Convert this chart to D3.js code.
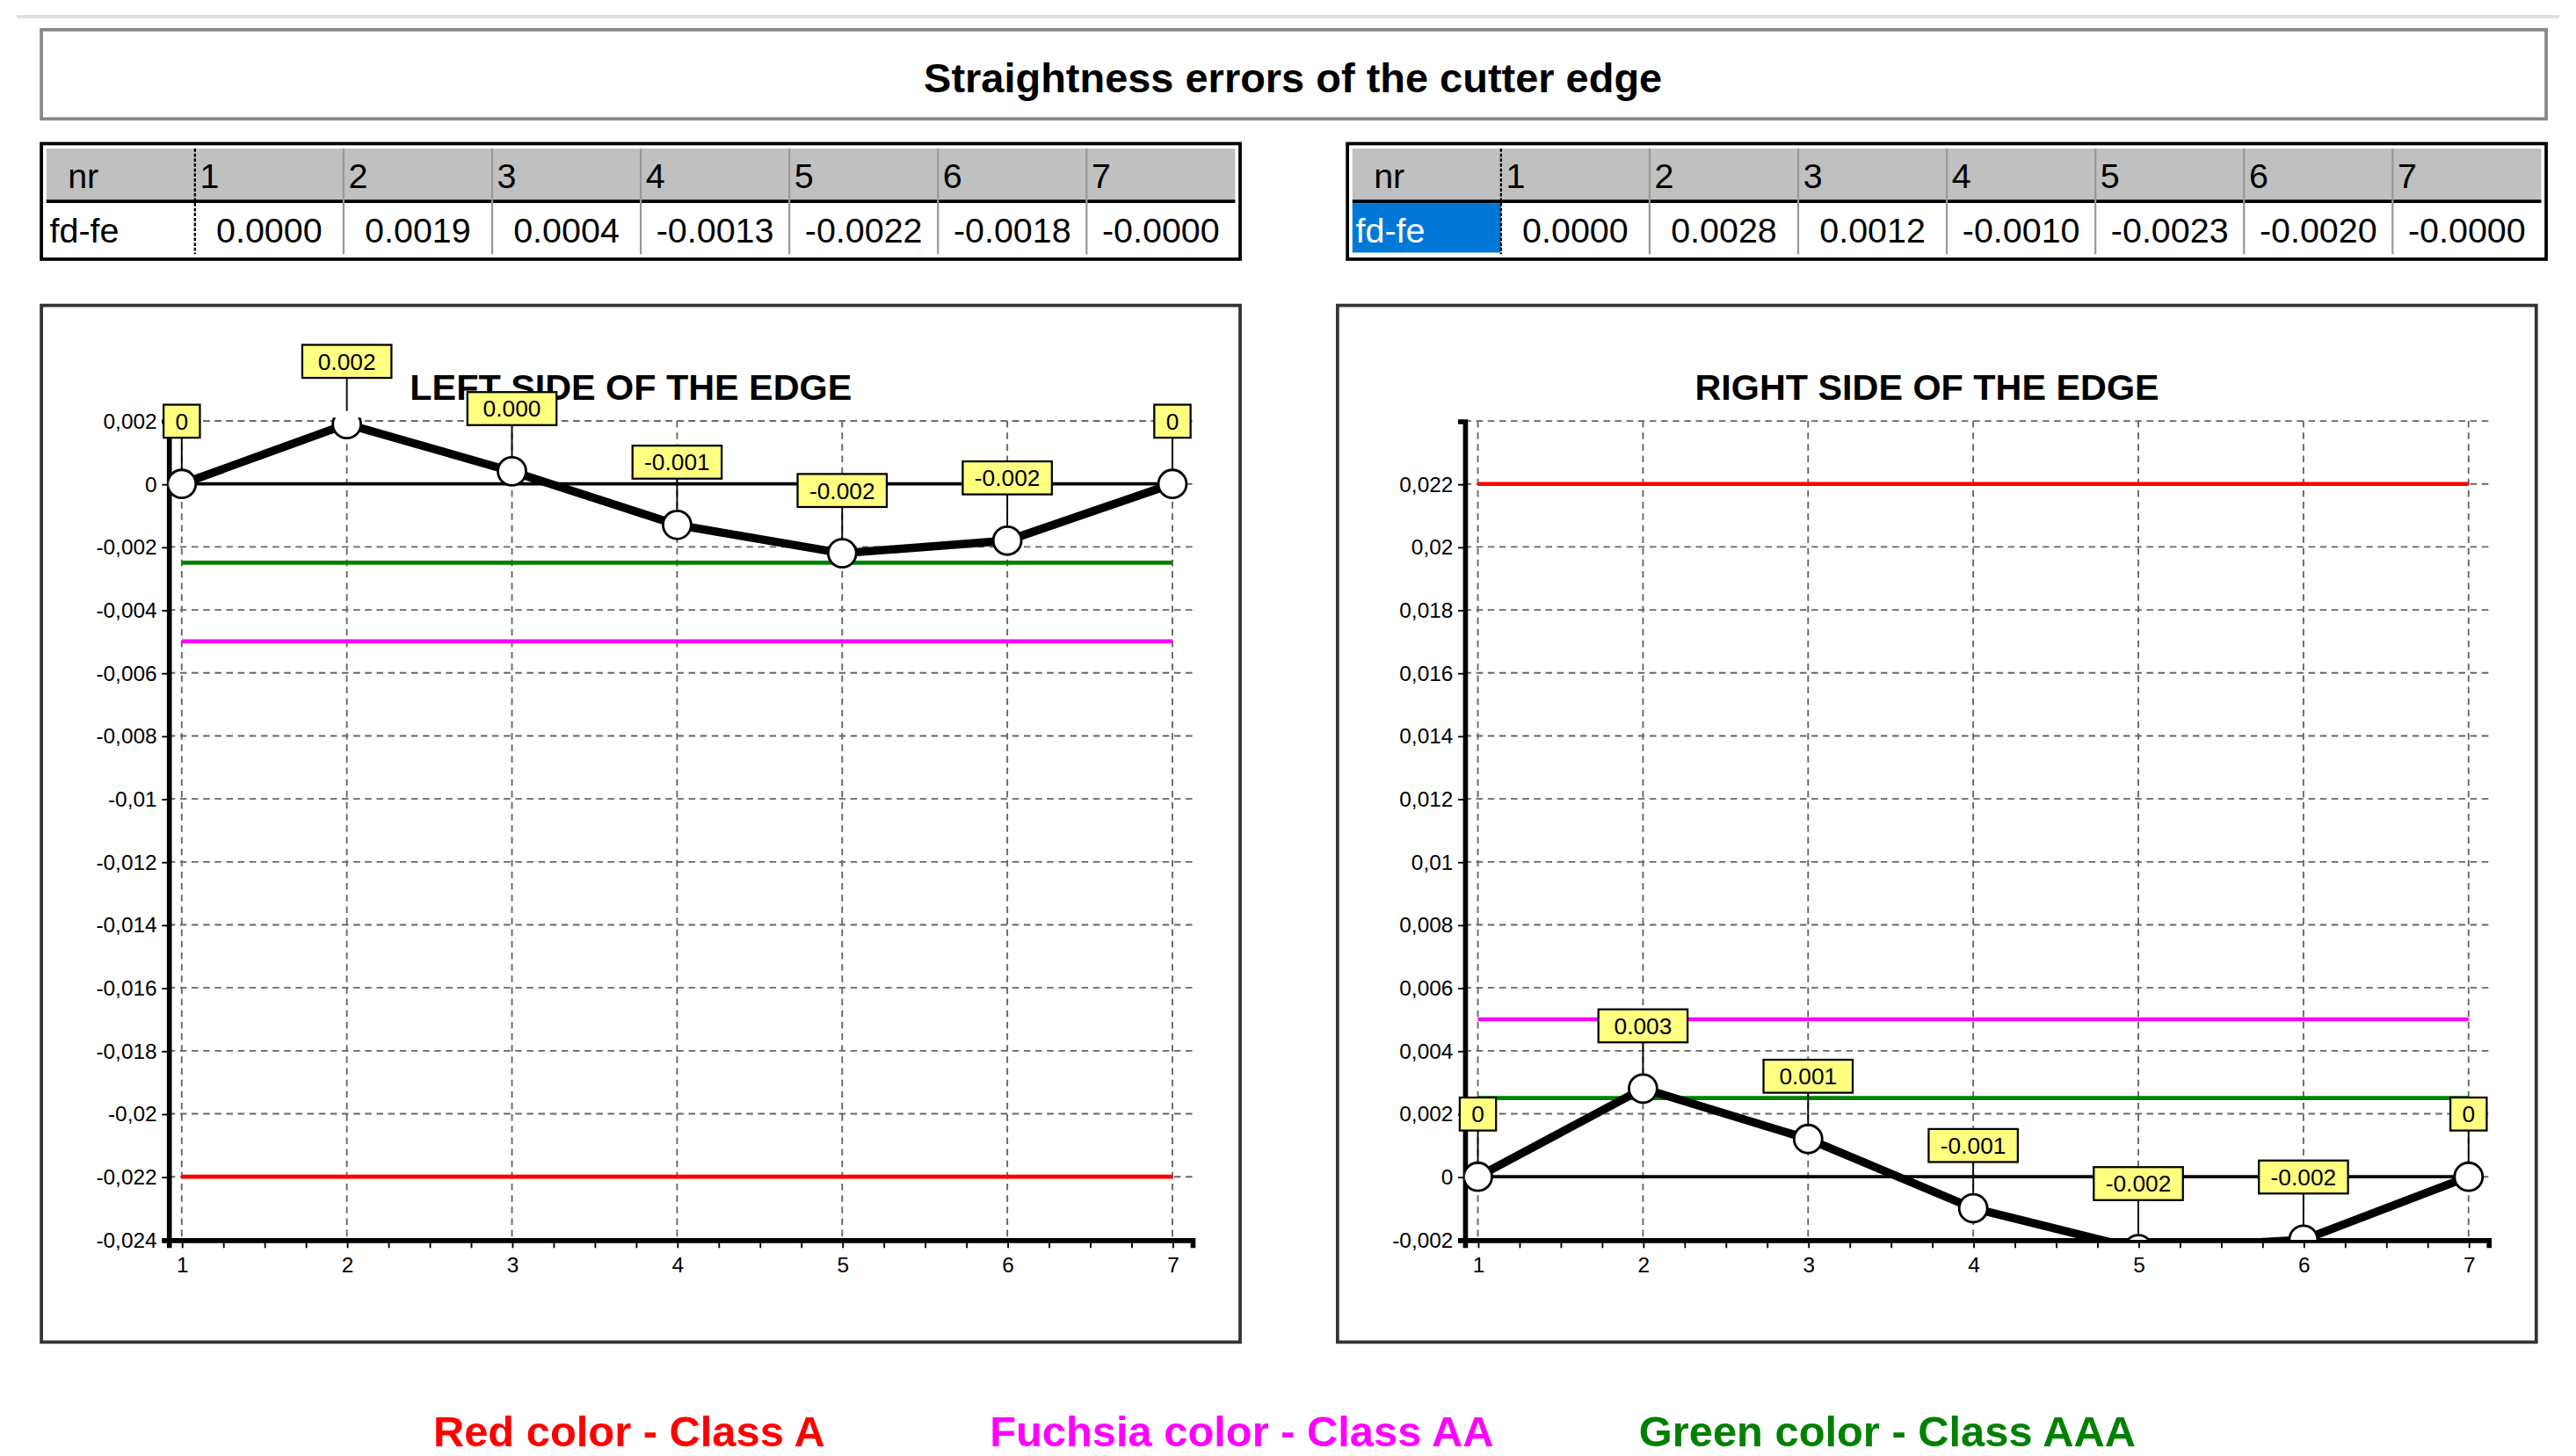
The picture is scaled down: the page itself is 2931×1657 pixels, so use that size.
<!DOCTYPE html>
<html><head><meta charset="utf-8">
<script src="https://cdn.jsdelivr.net/npm/d3@7"></script>
<style>body{margin:0;background:#fff}svg{display:block}text{font-family:"Liberation Sans",Arial,sans-serif}</style>
</head><body>
<script>
const points = [1, 2, 3, 4, 5, 6, 7];
const leftValues = [0.0000, 0.0019, 0.0004, -0.0013, -0.0022, -0.0018, -0.0000];
const rightValues = [0.0000, 0.0028, 0.0012, -0.0010, -0.0023, -0.0020, -0.0000];
const leftTable = ["0.0000", "0.0019", "0.0004", "-0.0013", "-0.0022", "-0.0018", "-0.0000"];
const rightTable = ["0.0000", "0.0028", "0.0012", "-0.0010", "-0.0023", "-0.0020", "-0.0000"];
const leftLabels = ["0", "0.002", "0.000", "-0.001", "-0.002", "-0.002", "0"];
const rightLabels = ["0", "0.003", "0.001", "-0.001", "-0.002", "-0.002", "0"];
const leftTicks = [-0.024, -0.022, -0.02, -0.018, -0.016, -0.014, -0.012, -0.01, -0.008, -0.006, -0.004, -0.002, 0, 0.002];
const rightTicks = [-0.002, 0, 0.002, 0.004, 0.006, 0.008, 0.01, 0.012, 0.014, 0.016, 0.018, 0.02, 0.022];
const leftClasses = [-0.022, -0.005, -0.0025];
const rightClasses = [0.022, 0.005, 0.0025];
const classColors = ["#ff0000", "#ff00ff", "#008000"];
const legendTexts = ["Red color - Class A", "Fuchsia color - Class AA", "Green color - Class AAA"];

const svg = d3.select("body").append("svg")
  .attr("width", 2931).attr("height", 1657)
  .attr("viewBox", "0 0 1560 882");

svg.append("line").attr("x1", 10).attr("x2", 1550).attr("y1", 10).attr("y2", 10)
  .attr("stroke", "#ddd").attr("stroke-width", 2);

// title box
svg.append("rect").attr("x", 25).attr("y", 18).attr("width", 1517).attr("height", 54)
  .attr("fill", "#fff").attr("stroke", "#888").attr("stroke-width", 2);
svg.append("text").attr("x", 783).attr("y", 56).attr("text-anchor", "middle")
  .attr("font-size", 25).attr("font-weight", "bold").text("Straightness errors of the cutter edge");

function drawTable(x0, vals, highlight) {
  const g = svg.append("g");
  g.append("rect").attr("x", x0).attr("y", 87).attr("width", 726).attr("height", 70)
    .attr("fill", "#fff").attr("stroke", "#000").attr("stroke-width", 2);
  const firstW = 90, colW = (720 - firstW) / 7;
  const cx = i => x0 + 3 + firstW + i * colW;
  g.append("rect").attr("x", x0 + 3).attr("y", 90).attr("width", 720).attr("height", 32).attr("fill", "#c0c0c0");
  g.append("line").attr("x1", x0 + 3).attr("x2", x0 + 723).attr("y1", 122).attr("y2", 122).attr("stroke", "#000").attr("stroke-width", 2);
  if (highlight) g.append("rect").attr("x", x0 + 3).attr("y", 123).attr("width", firstW).attr("height", 30).attr("fill", "#0078d7");
  g.append("text").attr("x", x0 + 16).attr("y", 114).attr("font-size", 21).text("nr");
  g.append("text").attr("x", x0 + 5).attr("y", 147).attr("font-size", 21)
    .attr("fill", highlight ? "#fff" : "#000").text("fd-fe");
  points.forEach((p, i) => {
    g.append("line").attr("x1", cx(i)).attr("x2", cx(i)).attr("y1", 90).attr("y2", 154)
      .attr("stroke", i === 0 ? "#000" : "#999").attr("stroke-width", 1.2)
      .attr("stroke-dasharray", i === 0 ? "2,1" : null);
    g.append("text").attr("x", cx(i) + 3).attr("y", 114).attr("font-size", 21).text(p);
    g.append("text").attr("x", cx(i) + colW / 2).attr("y", 147).attr("font-size", 21)
      .attr("text-anchor", "middle").text(vals[i]);
  });
}
drawTable(25, leftTable, false);
drawTable(816, rightTable, true);

const fmt = d => String(+d.toFixed(3)).replace(".", ",");

function drawChart(px, title, values, labels, classes, domain, yTicks, id) {
  const plot = { l: px + 77, r: px + 697, t: 255, b: 751 };
  svg.append("rect").attr("x", px).attr("y", 185).attr("width", 726).attr("height", 628)
    .attr("fill", "#fff").attr("stroke", "#333").attr("stroke-width", 2);
  svg.append("text").attr("x", px + 357).attr("y", 242).attr("text-anchor", "middle")
    .attr("font-size", 22).attr("font-weight", "bold").text(title);

  const x = d3.scaleLinear().domain([0.92, 7.12]).range([plot.l, plot.r]);
  const y = d3.scaleLinear().domain(domain).range([plot.b, plot.t]);

  const grid = svg.append("g").attr("stroke", "#666").attr("stroke-width", 1).attr("stroke-dasharray", "4,3");
  grid.selectAll(".h").data(yTicks.concat([domain[1]])).join("line")
    .attr("x1", plot.l).attr("x2", plot.r).attr("y1", d => y(d)).attr("y2", d => y(d));
  grid.selectAll(".v").data(points).join("line")
    .attr("x1", d => x(d)).attr("x2", d => x(d)).attr("y1", plot.t).attr("y2", plot.b);

  svg.append("g").attr("transform", `translate(${plot.l},0)`)
    .call(d3.axisLeft(y).tickValues(yTicks).tickFormat(fmt).tickSize(4))
    .call(g => g.select(".domain").attr("stroke-width", 3))
    .call(g => g.selectAll("text").attr("font-size", 13).attr("font-family", "Liberation Sans, Arial"));
  svg.append("g").attr("transform", `translate(0,${plot.b})`)
    .call(d3.axisBottom(x).tickValues(d3.range(1, 7.01, 0.25)).tickFormat(d => Number.isInteger(d) ? d : "").tickSize(5))
    .call(g => g.select(".domain").attr("stroke-width", 3))
    .call(g => g.selectAll("text").attr("font-size", 13).attr("dy", "0.9em").attr("font-family", "Liberation Sans, Arial"));

  svg.append("clipPath").attr("id", id).append("rect")
    .attr("x", plot.l).attr("y", plot.t - 2).attr("width", plot.r - plot.l + 10).attr("height", plot.b - plot.t + 2);
  const data = svg.append("g").attr("clip-path", `url(#${id})`);

  classes.forEach((c, i) => data.append("line")
    .attr("x1", x(1)).attr("x2", x(7)).attr("y1", y(c)).attr("y2", y(c))
    .attr("stroke", classColors[i]).attr("stroke-width", 2.5));
  data.append("line").attr("x1", x(1)).attr("x2", x(7)).attr("y1", y(0)).attr("y2", y(0))
    .attr("stroke", "#000").attr("stroke-width", 2);
  data.append("path").datum(values)
    .attr("d", d3.line().x((d, i) => x(points[i])).y(d => y(d)))
    .attr("fill", "none").attr("stroke", "#000").attr("stroke-width", 5);
  data.selectAll("circle").data(values).join("circle")
    .attr("cx", (d, i) => x(points[i])).attr("cy", d => y(d)).attr("r", 8.5)
    .attr("fill", "#fff").attr("stroke", "#000").attr("stroke-width", 1.5);

  const lab = svg.append("g");
  values.forEach((v, i) => {
    const cx = x(points[i]), cy = Math.min(y(v), plot.b + 4), ly = cy - 38;
    const w = labels[i].length > 2 ? 54 : 22;
    lab.append("line").attr("x1", cx).attr("x2", cx).attr("y1", ly).attr("y2", cy - 8).attr("stroke", "#000");
    lab.append("rect").attr("x", cx - w / 2).attr("y", ly - 10).attr("width", w).attr("height", 20)
      .attr("fill", "#ffff80").attr("stroke", "#000").attr("stroke-width", 1.2);
    lab.append("text").attr("x", cx).attr("y", ly + 5).attr("text-anchor", "middle")
      .attr("font-size", 14).text(labels[i]);
  });
}
drawChart(25, "LEFT SIDE OF THE EDGE", leftValues, leftLabels, leftClasses, [-0.024, 0.002], leftTicks, "clipL");
drawChart(810, "RIGHT SIDE OF THE EDGE", rightValues, rightLabels, rightClasses, [-0.002, 0.024], rightTicks, "clipR");

const legendX = [381, 752, 1143];
legendTexts.forEach((t, i) => svg.append("text").attr("x", legendX[i]).attr("y", 876)
  .attr("text-anchor", "middle").attr("font-size", 26).attr("font-weight", "bold")
  .attr("fill", classColors[i]).text(t));
</script>
</body></html>
